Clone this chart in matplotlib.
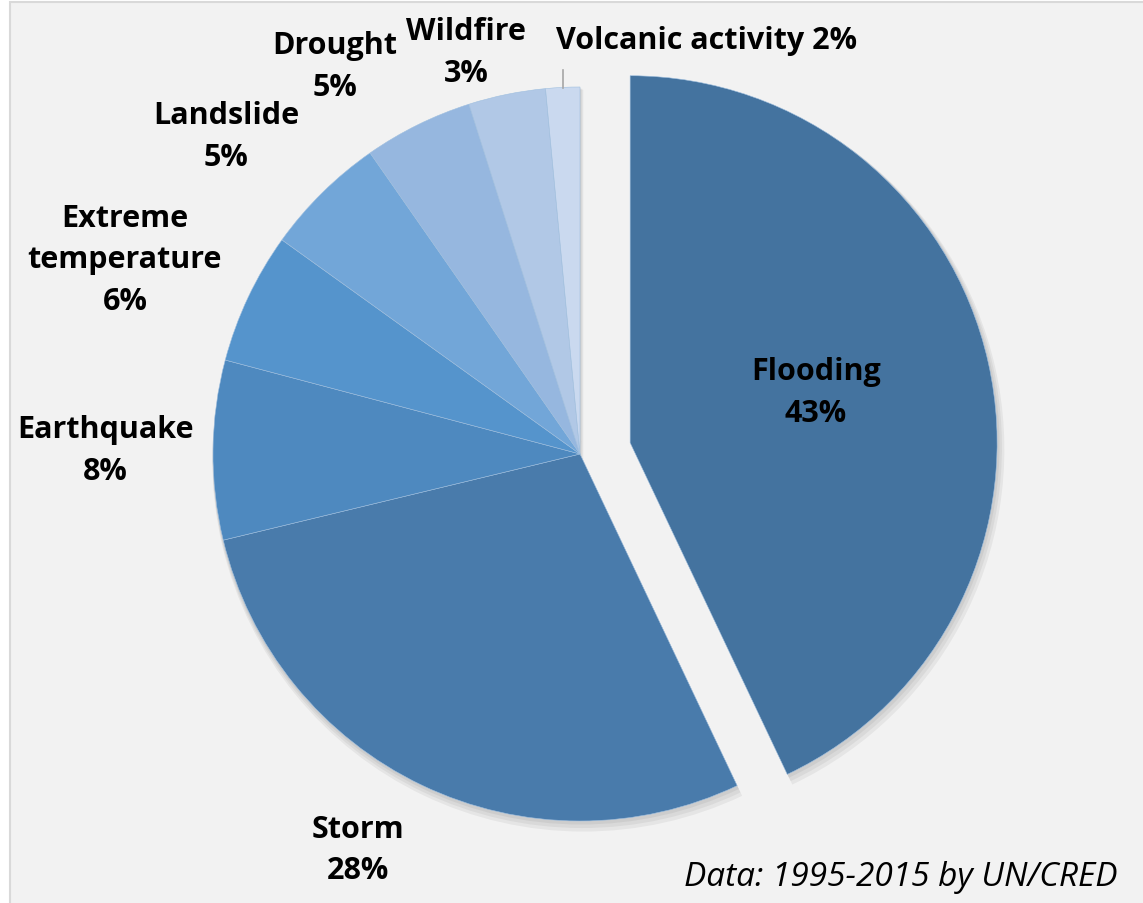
import matplotlib.pyplot as plt
from matplotlib.patches import Rectangle

# données (part des catastrophes naturelles, 1995-2015)
categories = ["Flooding", "Storm", "Earthquake", "Extreme\ntemperature",
              "Landslide", "Drought", "Wildfire", "Volcanic activity"]
valeurs = [43.0, 28.3, 7.9, 5.8, 5.4, 4.8, 3.4, 1.5]
couleurs = ["#44739f", "#497bab", "#4e89bf", "#5594cc",
            "#72a6d8", "#96b7df", "#b1c8e6", "#cad9ef"]
explode = [0.14, 0, 0, 0, 0, 0, 0, 0]

# positions des étiquettes (coordonnées du camembert, rayon = 1)
pos_labels = [(0.643, 0.169), (-0.604, -1.078), (-1.294, 0.011),
              (-1.240, 0.531), (-0.965, 0.866), (-0.668, 1.057),
              (-0.311, 1.095), (0.346, 1.128)]

plt.rcParams['font.family'] = ['Open Sans', 'DejaVu Sans']

fig = plt.figure(figsize=(11.43, 9.04), dpi=100, facecolor='white')
ax = fig.add_axes([0, 0, 1, 1])
R = 367.0
cx, cy = 580.0, 455.0

# cadre gris clair
ax.add_patch(Rectangle((10 / 1143, -0.01), 1.0, 1.0 - 3 / 904 + 0.01,
                       transform=fig.transFigure, facecolor='#f2f2f2',
                       edgecolor='#d9d9d9', linewidth=1.5, zorder=0))

# ombre légère
for k, a in enumerate([0.05, 0.05, 0.05]):
    off = 0.006 * (k + 1)
    ax.pie(valeurs, explode=explode, startangle=90, counterclock=False,
           radius=1 + off * 0.6, center=(off * 0.5, -off),
           colors=['black'] * len(valeurs),
           wedgeprops=dict(alpha=a, linewidth=0), frame=True)

wedges, _ = ax.pie(valeurs, explode=explode, startangle=90, counterclock=False,
                   colors=couleurs, radius=1,
                   wedgeprops=dict(edgecolor='#9fbfdf', linewidth=0.4),
                   frame=True)
ax.set_xlim(-cx / R, (1143 - cx) / R)
ax.set_ylim(-(904 - cy) / R, cy / R)
ax.set_aspect('auto')
ax.axis('off')

for cat, v, (x, y) in zip(categories, valeurs, pos_labels):
    if cat == "Volcanic activity":
        txt = f"{cat} {v:.0f}%"
    else:
        txt = f"{cat}\n{v:.0f}%"
    ax.text(x, y, txt, ha='center', va='center', fontsize=22,
            fontweight='bold', linespacing=1.5, color='black')

# trait de rappel pour "Volcanic activity"
ax.plot([(563 - cx) / R, (563 - cx) / R], [(cy - 71) / R, (cy - 89) / R],
        color='#a6a6a6', linewidth=1.2)

ax.text((1118 - cx) / R, (cy - 878) / R, "Data: 1995-2015 by UN/CRED",
        ha='right', va='center', fontsize=24, fontstyle='italic')

fig.savefig('out.png', dpi=100, facecolor='white')
